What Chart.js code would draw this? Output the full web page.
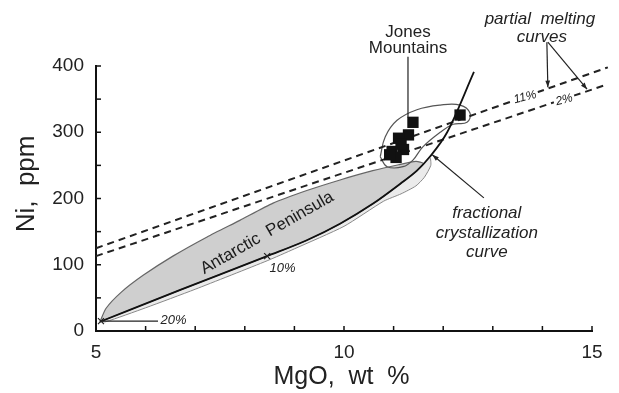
<!DOCTYPE html>
<html>
<head>
<meta charset="utf-8">
<script src="https://cdn.jsdelivr.net/npm/chart.js@4/dist/chart.umd.min.js"></script>
<style>
  html,body{margin:0;padding:0;background:#fff;}
  #wrap{width:619px;height:393px;}
</style>
</head>
<body>
<div id="wrap"><canvas id="c" width="619" height="393"></canvas></div>
<script>
// Jones Mountains samples (MgO wt%, Ni ppm)
const jonesMgO = [11.39, 11.30, 11.10, 11.20, 10.97, 11.05, 10.92, 11.15, 12.34];
const jonesNi  = [315, 296, 291, 274, 271, 262, 266, 282, 326];

// fractional crystallization curve
const fracMgO = [5.08, 6.7, 8.45, 9.25, 9.92, 10.58, 11.13, 11.47, 11.73, 12.08, 12.62];
const fracNi  = [14, 62, 113, 137, 162, 192, 222, 242, 263, 300, 391];

// partial melting curves (11% and 2%)
const melt11MgO = [5, 15.32];
const melt11Ni  = [125, 398];
const melt2MgO  = [5, 15.26];
const melt2Ni   = [113, 371];

// Antarctic Peninsula field: upper edge, closed along the crystallization curve
const apMgO = [5.08, 5.2, 5.5, 5.95, 6.55, 7.24, 7.90, 8.57, 9.25, 9.92, 10.58, 11.1, 11.45, 11.6,
               11.47, 11.13, 10.58, 9.92, 9.25, 8.45, 6.7, 5.08];
const apNi  = [14, 34, 58, 84, 113, 142, 167, 193, 212, 228, 242, 251, 256, 253,
               242, 222, 192, 162, 137, 113, 62, 14];

// thin outline below the curve, with the bulge at its upper end
const apLowMgO = [5.08, 6.7, 8.45, 9.25, 9.92, 10.58, 11.13, 11.47, 11.73, 11.75, 11.62, 11.45, 11.15, 10.8,
                  10.0, 9.0, 8.45, 7.0, 6.0, 5.2, 5.08];
const apLowNi  = [14, 62, 113, 137, 162, 192, 222, 242, 262, 250, 232, 219, 207, 196,
                  158, 124, 106, 63, 35, 14, 14];

// Jones Mountains field outline
const jmMgO = [10.73, 10.83, 11.07, 11.47, 11.94, 12.34, 12.54, 12.48, 12.20, 11.94, 11.59, 11.39, 11.19, 10.87, 10.73];
const jmNi  = [263, 293, 318, 334, 341, 341, 329, 315, 312, 300, 278, 258, 248, 248, 263];

const FONT = 'Liberation Sans, Arial, Helvetica, sans-serif';
const zip = (xs, ys) => xs.map((x, i) => ({x, y: ys[i]}));

function arrow(ctx, x1, y1, x2, y2){
  ctx.beginPath(); ctx.moveTo(x1, y1); ctx.lineTo(x2, y2); ctx.stroke();
  const a = Math.atan2(y2 - y1, x2 - x1), L = 7;
  ctx.beginPath();
  ctx.moveTo(x2, y2);
  ctx.lineTo(x2 - L*Math.cos(a - 0.35), y2 - L*Math.sin(a - 0.35));
  ctx.lineTo(x2 - L*Math.cos(a + 0.35), y2 - L*Math.sin(a + 0.35));
  ctx.closePath(); ctx.fill();
}

const Extras = {
  id: 'extras',
  afterDatasetsDraw(chart){
    const {ctx, scales:{x, y}, chartArea:{bottom, left}} = chart;
    const X = v => x.getPixelForValue(v), Y = v => y.getPixelForValue(v);
    ctx.save();
    ctx.strokeStyle = '#111'; ctx.fillStyle = '#111'; ctx.lineWidth = 1.5;
    // inward ticks
    for(let v = 6; v <= 15; v++){
      ctx.beginPath(); ctx.moveTo(X(v), bottom); ctx.lineTo(X(v), bottom - 5); ctx.stroke();
    }
    for(let v = 50; v <= 400; v += 50){
      ctx.beginPath(); ctx.moveTo(left, Y(v)); ctx.lineTo(left + 5, Y(v)); ctx.stroke();
    }
    ctx.lineWidth = 1.2; ctx.strokeStyle = '#222'; ctx.fillStyle = '#222';
    // Jones Mountains leader
    ctx.beginPath(); ctx.moveTo(X(11.29), Y(414)); ctx.lineTo(X(11.29), Y(322)); ctx.stroke();
    // partial melting arrows
    arrow(ctx, X(14.09), Y(436), X(14.11), Y(368));
    arrow(ctx, X(14.11), Y(436), X(14.9), Y(365));
    // fractional crystallization arrow
    arrow(ctx, X(12.82), Y(201), X(11.78), Y(266));
    // 20% leader
    ctx.beginPath(); ctx.moveTo(X(5.12), Y(15)); ctx.lineTo(X(6.25), Y(15)); ctx.stroke();
    // crosses on curve
    [[5.1, 15], [8.45, 113]].forEach(([a, b]) => {
      ctx.beginPath();
      ctx.moveTo(X(a) - 3, Y(b) - 3); ctx.lineTo(X(a) + 3, Y(b) + 3);
      ctx.moveTo(X(a) - 3, Y(b) + 3); ctx.lineTo(X(a) + 3, Y(b) - 3);
      ctx.stroke();
    });

    ctx.textAlign = 'center'; ctx.textBaseline = 'middle';
    ctx.fillStyle = '#222';
    ctx.font = `17px ${FONT}`;
    ctx.fillText('Jones', X(11.29), Y(451));
    ctx.fillText('Mountains', X(11.29), Y(426));
    ctx.font = `italic 17px ${FONT}`;
    ctx.fillText('partial  melting', X(13.95), Y(470));
    ctx.fillText('curves', X(13.99), Y(444));
    ctx.fillText('fractional', X(12.88), Y(178));
    ctx.fillText('crystallization', X(12.88), Y(148));
    ctx.fillText('curve', X(12.88), Y(119));

    ctx.font = `italic 13px ${FONT}`;
    ctx.textAlign = 'left';
    ctx.fillText('20%', X(6.3), Y(16));
    ctx.fillText('10%', X(8.5), Y(95));

    // labels on dashed lines
    [['11%', 13.65, 353], ['2%', 14.44, 349]].forEach(([t, a, b]) => {
      ctx.save();
      ctx.translate(X(a), Y(b)); ctx.rotate(-0.25);
      ctx.font = `italic 12px ${FONT}`; ctx.textAlign = 'center';
      const w = ctx.measureText(t).width;
      ctx.fillStyle = '#fff'; ctx.fillRect(-w/2 - 2, -6, w + 4, 12);
      ctx.fillStyle = '#222'; ctx.fillText(t, 0, 0);
      ctx.restore();
    });

    // field name
    ctx.save();
    ctx.translate(X(8.45), Y(148)); ctx.rotate(-0.52);
    ctx.font = `17px ${FONT}`; ctx.textAlign = 'center'; ctx.fillStyle = '#1a1a1a';
    ctx.fillText('Antarctic  Peninsula', 0, 0);
    ctx.restore();

    // axis titles
    ctx.fillStyle = '#222'; ctx.textAlign = 'center';
    ctx.font = `25px ${FONT}`;
    ctx.fillText('MgO,  wt  %', X(9.95), bottom + 46);
    ctx.save();
    ctx.translate(27, Y(222)); ctx.rotate(-Math.PI/2);
    ctx.font = `26px ${FONT}`;
    ctx.fillText('Ni,  ppm', 0, 0);
    ctx.restore();
    ctx.restore();
  }
};

new Chart(document.getElementById('c'), {
  type: 'scatter',
  data: {
    datasets: [
      {data: zip(jonesMgO, jonesNi), pointStyle: 'rect', pointRadius: 8,
       backgroundColor: '#111', borderColor: '#111', borderWidth: 0},
      {data: zip(fracMgO, fracNi), showLine: true, pointRadius: 0, borderColor: '#111',
       borderWidth: 1.8, cubicInterpolationMode: 'monotone', clip: false},
      {data: zip(melt11MgO, melt11Ni), showLine: true, pointRadius: 0, borderColor: '#222',
       borderWidth: 2, borderDash: [7, 5], clip: false},
      {data: zip(melt2MgO, melt2Ni), showLine: true, pointRadius: 0, borderColor: '#222',
       borderWidth: 2, borderDash: [7, 5], clip: false},
      {data: zip(jmMgO, jmNi), showLine: true, pointRadius: 0, borderColor: '#555',
       borderWidth: 1.2, tension: 0.4},
      {data: zip(apMgO, apNi), showLine: true, pointRadius: 0, borderColor: '#666',
       borderWidth: 1.2, tension: 0.2, fill: 'shape', backgroundColor: '#cfcfcf'},
      {data: zip(apLowMgO, apLowNi), showLine: true, pointRadius: 0, borderColor: '#888',
       borderWidth: 1, tension: 0.2, fill: 'shape', backgroundColor: '#ebebeb'}
    ]
  },
  options: {
    responsive: false, animation: false,
    layout: {padding: {top: 66, right: 27, left: 0, bottom: 0}},
    plugins: {legend: {display: false}, tooltip: {enabled: false}},
    scales: {
      x: {
        type: 'linear', min: 5, max: 15,
        afterFit: s => { s.height = 62; },
        border: {color: '#111', width: 2},
        grid: {drawOnChartArea: false, drawTicks: false},
        ticks: {stepSize: 5, padding: 10, color: '#222', font: {family: FONT, size: 19}}
      },
      y: {
        min: 0, max: 400,
        afterFit: s => { s.width = 96; },
        border: {color: '#111', width: 2},
        grid: {drawOnChartArea: false, drawTicks: false},
        ticks: {stepSize: 100, padding: 12, color: '#222', font: {family: FONT, size: 19}}
      }
    }
  },
  plugins: [Extras]
});
</script>
</body>
</html>
